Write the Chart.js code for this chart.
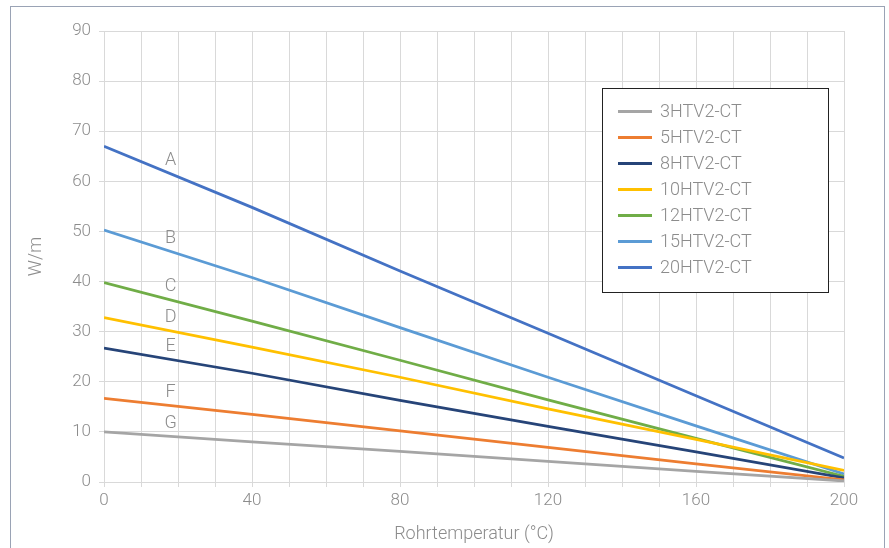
<!DOCTYPE html>
<html lang="de">
<head>
    <meta charset="UTF-8">
    <title>Chart</title>
    <style>
        body {
            margin: 0;
            padding: 0;
            background: #fff;
        }
        #frame {
            position: absolute;
            left: 10px;
            top: 6px;
            width: 873px;
            height: 600px;
            border: 1px solid #9aa3b5;
        }
        #wrap {
            position: absolute;
            left: 0;
            top: 0;
            width: 889px;
            height: 548px;
        }
    </style>
    <script src="https://cdn.jsdelivr.net/npm/chart.js@4.4.1/dist/chart.umd.min.js"></script>
</head>
<body>
<div id="frame"></div>
<div id="wrap">
    <canvas id="chart"></canvas>
</div>
<script>
    // Rohrtemperatur (°C)
    var temps = [0, 40, 80, 120, 160, 200];

    // W/m je Typ
    var s3  = [10.0, 8.0, 6.1, 4.1, 2.1, 0.2];
    var s5  = [16.7, 13.5, 10.2, 6.9, 3.6, 0.4];
    var s8  = [26.7, 21.7, 16.3, 11.1, 6.0, 0.8];
    var s10 = [32.8, 26.9, 20.9, 14.6, 8.5, 2.3];
    var s12 = [39.8, 32.1, 24.3, 16.4, 8.7, 1.1];
    var s15 = [50.3, 40.8, 30.8, 20.9, 11.2, 1.6];
    var s20 = [67.0, 54.8, 42.1, 29.7, 17.2, 4.8];

    var names = ['3HTV2-CT', '5HTV2-CT', '8HTV2-CT', '10HTV2-CT', '12HTV2-CT', '15HTV2-CT', '20HTV2-CT'];
    var curveLetters = ['G', 'F', 'E', 'D', 'C', 'B', 'A'];
    var letterAt = 18;
    var colors = ['#a5a5a5', '#ed7d31', '#264478', '#ffc000', '#70ad47', '#5b9bd5', '#4472c4'];
    var series = [s3, s5, s8, s10, s12, s15, s20];

    var textColor = '#8c8c8c';
    var fontFamily = "Roboto, 'Liberation Sans', sans-serif";

    var datasets = series.map(function(vals, i) {
        return {
            label: names[i],
            data: vals.map(function(v, j) { return { x: temps[j], y: v }; }),
            borderColor: colors[i],
            backgroundColor: colors[i],
            borderWidth: 2.75,
            pointRadius: 0,
            tension: 0
        };
    });

    // Buchstaben A-G an den Kurven
    var letterPlugin = {
        id: 'letters',
        afterDatasetsDraw: function(chart) {
            var ctx = chart.ctx;
            var xs = chart.scales.x, ys = chart.scales.y;
            ctx.save();
            ctx.font = '300 18px ' + fontFamily;
            ctx.fillStyle = textColor;
            ctx.textAlign = 'center';
            ctx.textBaseline = 'middle';
            series.forEach(function(vals, i) {
                var k = 0;
                while (temps[k + 1] < letterAt) k++;
                var t = (letterAt - temps[k]) / (temps[k + 1] - temps[k]);
                var v = vals[k] + t * (vals[k + 1] - vals[k]);
                ctx.fillText(curveLetters[i], xs.getPixelForValue(letterAt), ys.getPixelForValue(v) - 13);
            });
            ctx.restore();
        }
    };

    // Legende im Diagramm mit Rahmen
    var legendPlugin = {
        id: 'boxLegend',
        afterDraw: function(chart) {
            var ctx = chart.ctx;
            ctx.save();
            ctx.fillStyle = '#fff';
            ctx.fillRect(602.5, 88.5, 226, 204);
            ctx.strokeStyle = '#222';
            ctx.lineWidth = 1;
            ctx.strokeRect(602.5, 88.5, 226, 204);
            ctx.font = '300 18px ' + fontFamily;
            ctx.textBaseline = 'middle';
            ctx.textAlign = 'left';
            chart.data.datasets.forEach(function(ds, i) {
                var y = 111.5 + i * 26;
                ctx.strokeStyle = ds.borderColor;
                ctx.lineWidth = 3;
                ctx.beginPath();
                ctx.moveTo(618, y);
                ctx.lineTo(652, y);
                ctx.stroke();
                ctx.fillStyle = textColor;
                ctx.fillText(ds.label, 660, y + 1);
            });
            ctx.restore();
        }
    };

    new Chart(document.getElementById('chart'), {
        type: 'line',
        data: { datasets: datasets },
        options: {
            responsive: true,
            maintainAspectRatio: false,
            animation: false,
            layout: { padding: { top: 31, right: 45, left: 0, bottom: 0 } },
            plugins: {
                legend: { display: false },
                tooltip: { enabled: false }
            },
            scales: {
                x: {
                    type: 'linear',
                    min: 0,
                    max: 200,
                    afterFit: function(scale) { scale.height = 66; },
                    ticks: {
                        stepSize: 10,
                        autoSkip: false,
                        maxRotation: 0,
                        padding: 4,
                        color: textColor,
                        font: { family: fontFamily, size: 17, weight: 300 },
                        callback: function(v) { return v % 40 === 0 ? v : ''; }
                    },
                    grid: { color: '#d9d9d9', lineWidth: 1, tickLength: 5 },
                    border: { color: '#d9d9d9' },
                    title: {
                        display: true,
                        text: 'Rohrtemperatur (°C)',
                        color: textColor,
                        font: { family: fontFamily, size: 18, weight: 300 },
                        padding: { top: 0, bottom: 3 }
                    }
                },
                y: {
                    min: 0,
                    max: 90,
                    afterFit: function(scale) { scale.width = 104; },
                    ticks: {
                        stepSize: 10,
                        padding: 8,
                        color: textColor,
                        font: { family: fontFamily, size: 17, weight: 300 }
                    },
                    grid: { color: '#d9d9d9', lineWidth: 1, tickLength: 5 },
                    border: { color: '#d9d9d9' },
                    title: {
                        display: true,
                        text: 'W/m',
                        color: textColor,
                        font: { family: fontFamily, size: 18, weight: 300 },
                        padding: { top: 26, bottom: 0 }
                    }
                }
            }
        },
        plugins: [letterPlugin, legendPlugin]
    });
</script>
</body>
</html>
